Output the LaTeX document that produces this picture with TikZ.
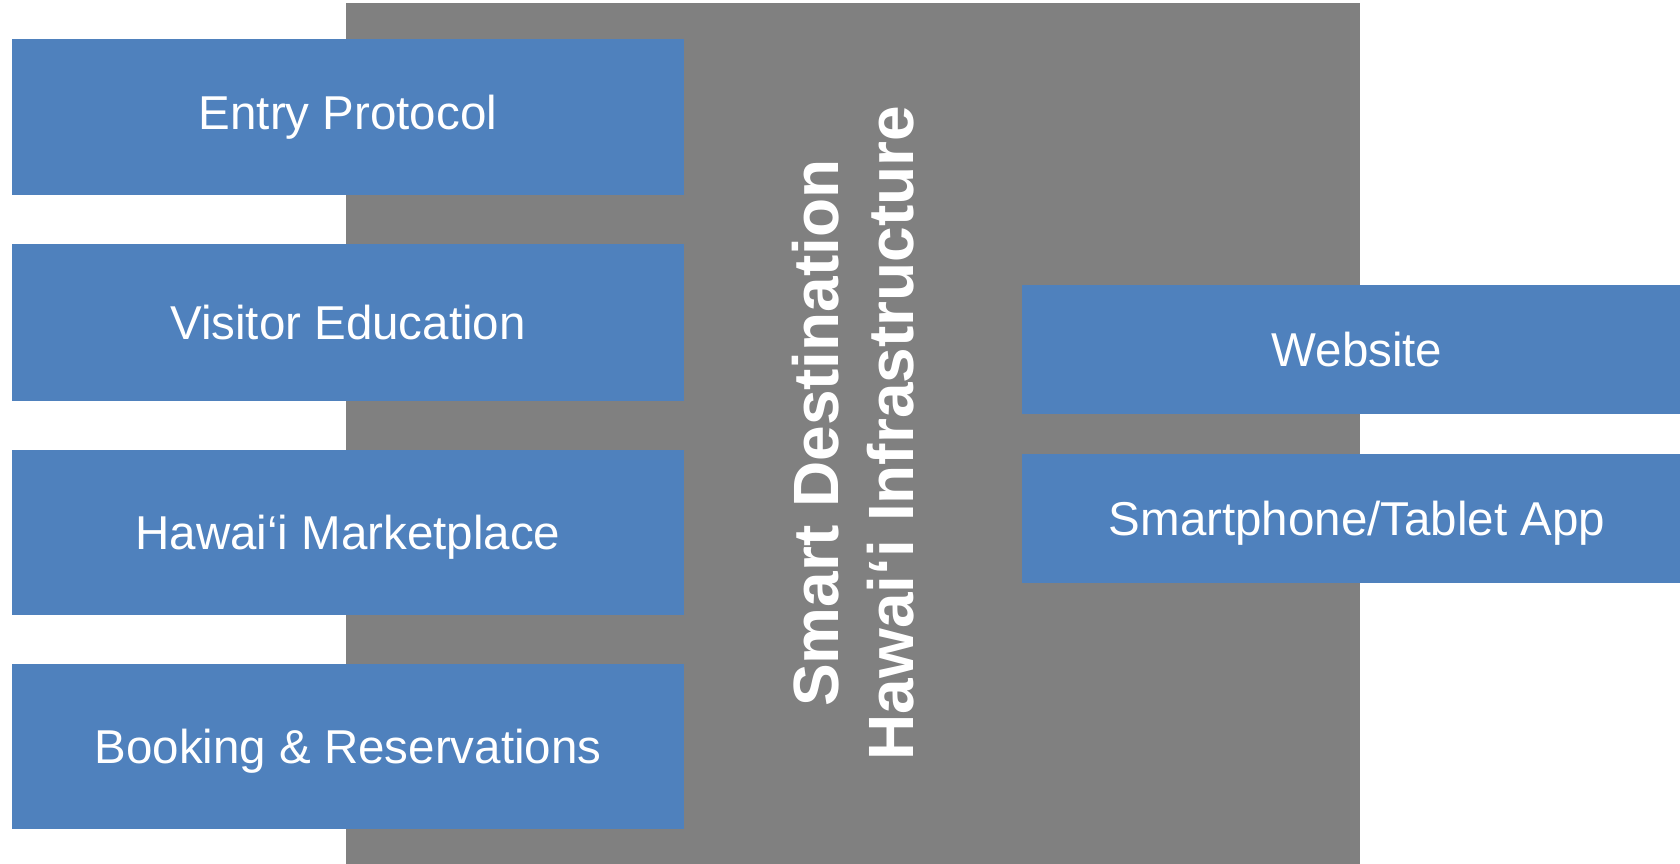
\documentclass[tikz,border=0pt]{standalone}
\usepackage{fontspec}
\setmainfont{Liberation Sans}
\definecolor{boxblue}{HTML}{4F81BD}
\definecolor{bggray}{HTML}{808080}
\begin{document}
\begin{tikzpicture}[x=1pt,y=-1pt,
  bluebox/.style={fill=boxblue, draw=none, inner sep=0pt, text=white,
    font=\fontsize{47.5}{57}\selectfont},
  graybox/.style={fill=bggray, draw=none, inner sep=0pt}]
\useasboundingbox (0,0) rectangle (1680,863);
\node[graybox, minimum width=1014pt, minimum height=870pt] (bg) at (853,438) {};
\node[bluebox, minimum width=672pt, minimum height=156pt] (ep) at (348,117) {Entry Protocol};
\node[bluebox, minimum width=672pt, minimum height=157pt] (ve) at (348,322.5) {Visitor Education};
\node[bluebox, text depth=0pt, minimum width=672pt, minimum height=165pt] (hm) at (348,532.5) {Hawai‘i Marketplace};
\node[bluebox, text depth=0pt, minimum width=672pt, minimum height=165pt] (br) at (348,746.5) {Booking \& Reservations};
\node[bluebox, minimum width=670pt, minimum height=129pt] (ws) at (1357,349.5) {Website};
\node[bluebox, text depth=0pt, minimum width=670pt, minimum height=129pt] (sa) at (1357,518.5) {Smartphone/Tablet App};
\node[rotate=90, align=center, text=white, inner sep=0pt,
  font=\bfseries\fontsize{64}{75}\selectfont] (title) at (853,433)
  {Smart Destination\\Hawai‘i Infrastructure};
\end{tikzpicture}
\end{document}
